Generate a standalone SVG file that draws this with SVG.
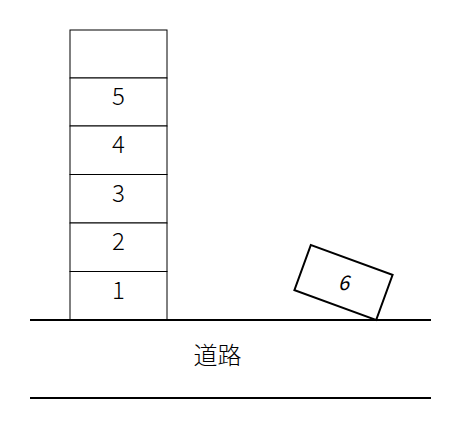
<svg xmlns="http://www.w3.org/2000/svg" width="472" height="438" viewBox="0 0 472 438">
<style>
.cell{fill:#fff;stroke:#000;stroke-width:1}
.road{stroke:#000;stroke-width:2}
.lbl{font-family:"Noto Sans CJK JP","Noto Sans",sans-serif;font-size:24px;font-weight:300;fill:#000;text-anchor:middle}
</style>
<rect width="472" height="438" fill="#fff"/>
<g id="tower">
<g id="cell-top"><rect class="cell" x="70" y="30" width="97" height="48"/></g>
<g id="cell-5"><rect class="cell" x="70" y="78" width="97" height="48"/><text class="lbl" x="118.5" y="105">5</text></g>
<g id="cell-4"><rect class="cell" x="70" y="126" width="97" height="48.5"/><text class="lbl" x="118.5" y="153.3">4</text></g>
<g id="cell-3"><rect class="cell" x="70" y="174.5" width="97" height="48.5"/><text class="lbl" x="118.5" y="201.8">3</text></g>
<g id="cell-2"><rect class="cell" x="70" y="223" width="97" height="48.5"/><text class="lbl" x="118.5" y="250.3">2</text></g>
<g id="cell-1"><rect class="cell" x="70" y="271.5" width="97" height="48.5"/><text class="lbl" x="118.5" y="299">1</text></g>
</g>
<g id="block-6" transform="translate(343.5 282.5) rotate(20)">
<rect x="-43.5" y="-24" width="87" height="48" fill="#fff" stroke="#000" stroke-width="2"/>
<text class="lbl" x="0" y="7" font-style="italic" style="font-size:20px;font-weight:400" transform="rotate(-20)">6</text>
</g>
<g id="road">
<line class="road" x1="30" y1="320" x2="431" y2="320"/>
<line class="road" x1="30" y1="398" x2="431" y2="398"/>
<text class="lbl" x="217.5" y="364" style="font-size:24px">道路</text>
</g>
</svg>
